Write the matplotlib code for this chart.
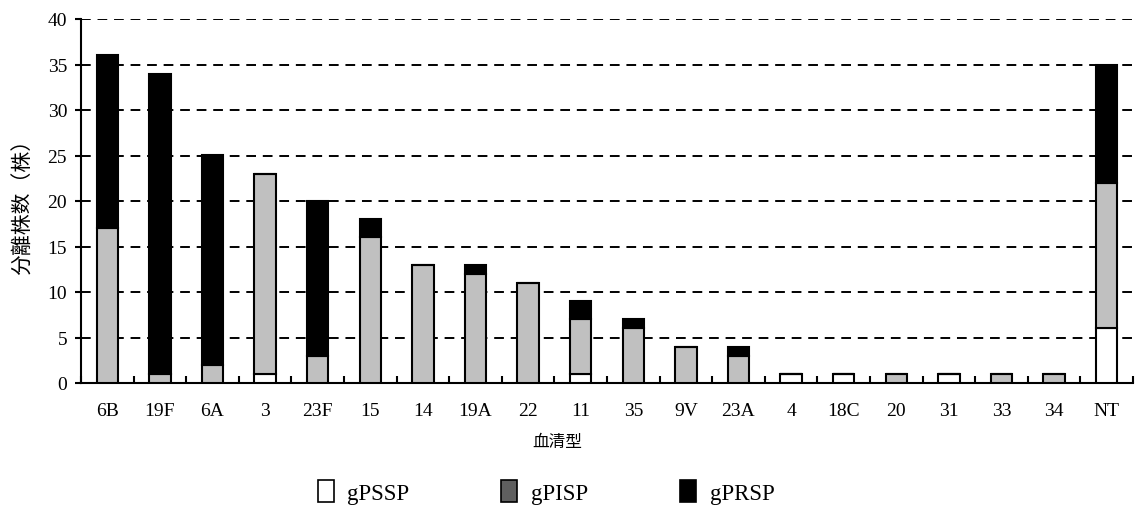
import matplotlib
matplotlib.use("Agg")
import matplotlib.pyplot as plt
from matplotlib.patches import Patch
import numpy as np

plt.rcParams['font.family'] = ['Liberation Serif', 'Noto Sans CJK SC']

categories = ['6B', '19F', '6A', '3', '23F', '15', '14', '19A', '22', '11',
              '35', '9V', '23A', '4', '18C', '20', '31', '33', '34', 'NT']
gPSSP = [0, 0, 0, 1, 0, 0, 0, 0, 0, 1, 0, 0, 0, 1, 1, 0, 1, 0, 0, 6]
gPISP = [17, 1, 2, 22, 3, 16, 13, 12, 11, 6, 6, 4, 3, 0, 0, 1, 0, 1, 1, 16]
gPRSP = [19, 33, 23, 0, 17, 2, 0, 1, 0, 2, 1, 0, 1, 0, 0, 0, 0, 0, 0, 13]
yticks = [0, 5, 10, 15, 20, 25, 30, 35, 40]

fig = plt.figure(figsize=(11.39, 5.06), dpi=100)
ax = fig.add_axes([81/1139, 1-384/506, (1133-81)/1139, (384-20)/506])

x = np.arange(len(categories))
a = np.array(gPSSP); b = np.array(gPISP); c = np.array(gPRSP)
w = 0.41
kw = dict(width=w, edgecolor='black', linewidth=1.5, zorder=3)
ax.bar(x, a, color='white', **kw)
ax.bar(x, b, bottom=a, color='#c0c0c0', **kw)
ax.bar(x, c, bottom=a+b, color='black', **kw)

ax.set_xlim(-0.5, len(categories)-0.5)
ax.set_ylim(0, 40)
ax.set_yticks(yticks)
for yv in yticks[1:]:
    ax.axhline(yv, color='black', linestyle=(0, (5, 3.5)), linewidth=1.4, zorder=1)

ax.set_xticks(x)
ax.set_xticklabels(categories, fontsize=14)
ax.tick_params(axis='x', length=0, pad=14)
ax.set_xticks(np.arange(len(categories)+1)-0.5, minor=True)
ax.tick_params(axis='x', which='minor', direction='in', length=5, width=1.5)
ax.tick_params(axis='y', direction='out', length=4, width=1.5, labelsize=14, pad=6)

for s in ['top', 'right']:
    ax.spines[s].set_visible(False)
for s in ['left', 'bottom']:
    ax.spines[s].set_linewidth(1.5)

fig.text(557/1139, 1-443/506, '血清型', fontsize=12, ha='center', va='center')
ax.set_ylabel('分離株数（株）', fontsize=15, labelpad=10)

handles = [Patch(facecolor='white', edgecolor='black', linewidth=1.2, label='gPSSP'),
           Patch(facecolor='#5f5f5f', edgecolor='black', linewidth=1.2, label='gPISP'),
           Patch(facecolor='black', edgecolor='black', linewidth=1.2, label='gPRSP')]
fig.legend(handles=handles, loc='center', bbox_to_anchor=(546/1139, 1-493/506),
           ncol=3, frameon=False, fontsize=16.5, handlelength=0.7, handleheight=1.1,
           columnspacing=4.0, handletextpad=0.6, borderpad=0, borderaxespad=0)

fig.savefig('out.png', dpi=100)
